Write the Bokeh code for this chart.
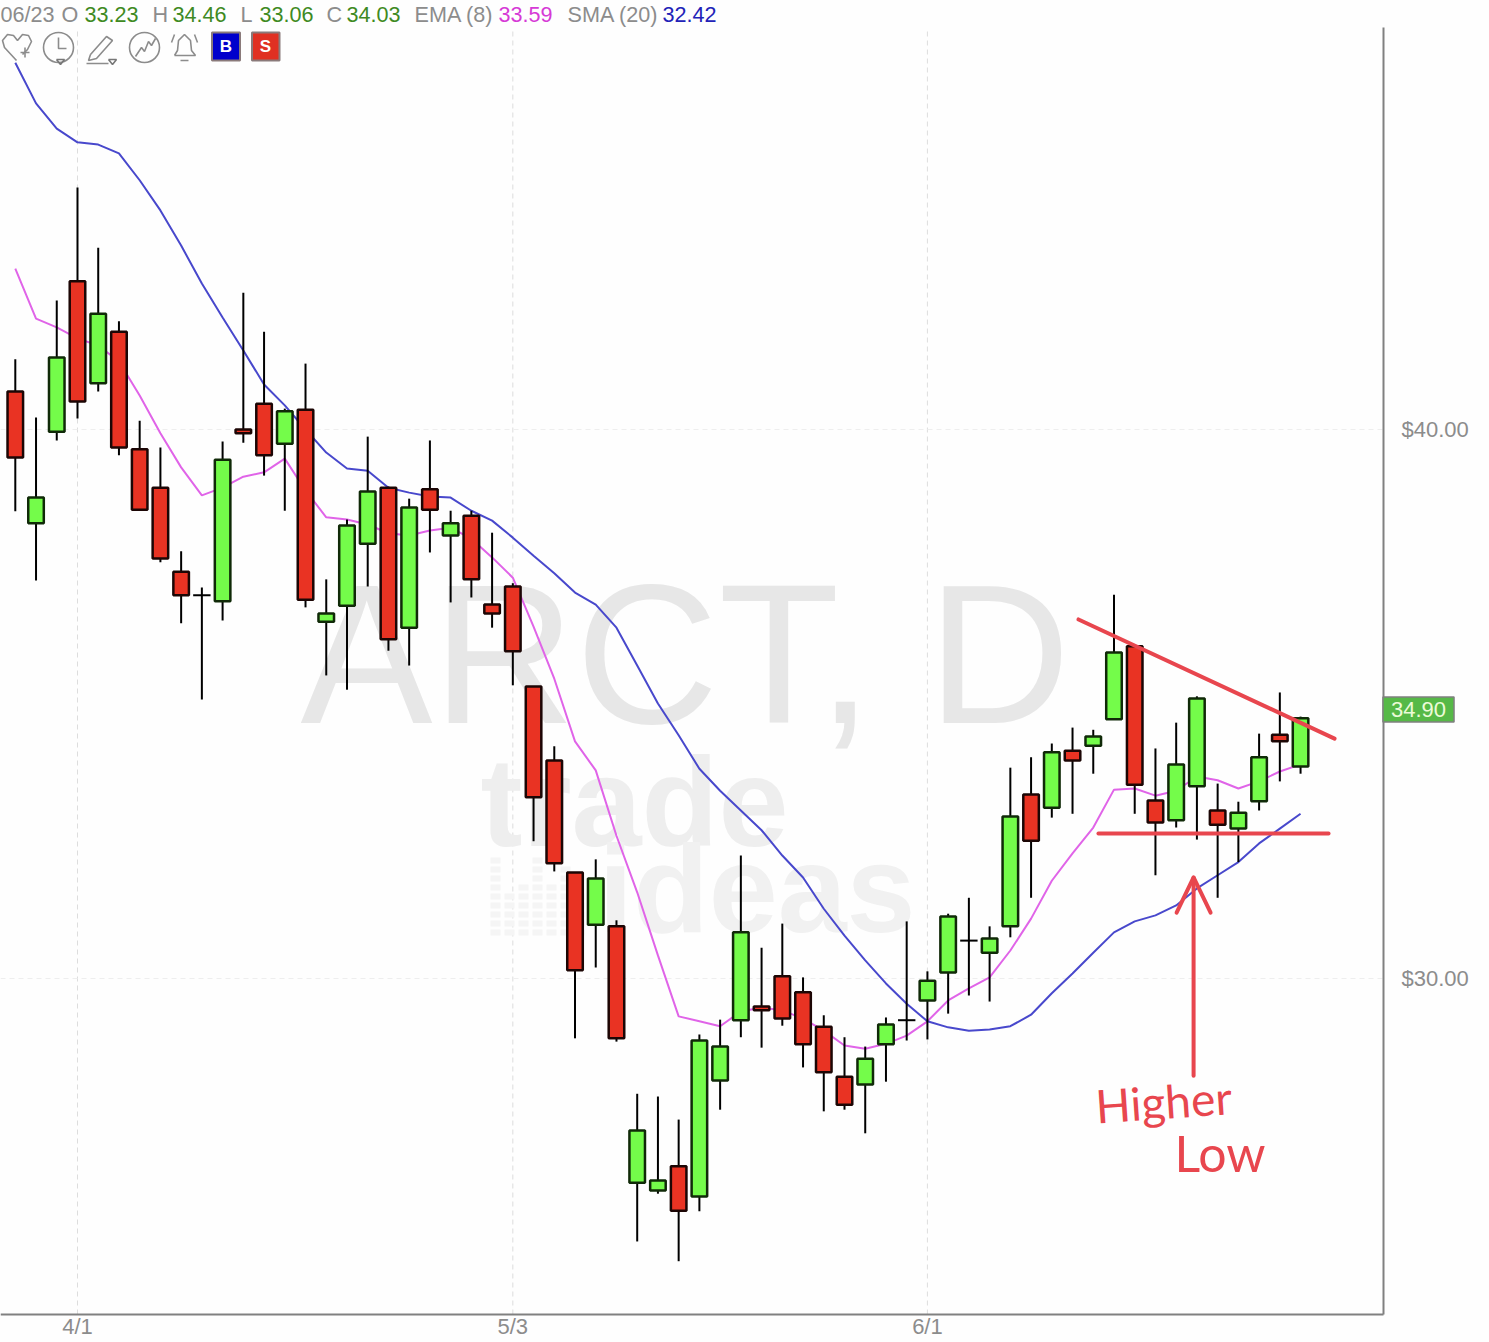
from bokeh.plotting import figure
from bokeh.embed import file_html
from bokeh.resources import INLINE
from bokeh.models import Range1d, FixedTicker, Label
from bokeh.core.properties import value

opens  = [40.69,38.29,39.96,42.70,40.84,41.78,39.64,38.94,37.41,36.98,36.87,40.00,40.47,39.74,40.36,36.50,36.79,37.92,38.94,36.39,38.91,38.07,38.43,36.81,37.14,35.32,33.97,31.93,30.98,30.95,26.28,26.14,26.58,26.03,28.14,29.24,29.49,30.04,29.75,29.12,28.21,28.07,28.80,29.24,29.60,30.11,30.69,30.47,30.95,33.35,33.11,34.15,34.24,34.72,36.05,33.24,32.88,33.50,33.06,32.73,33.23,34.44,33.86]
highs  = [41.28,40.22,42.35,44.41,43.31,41.97,40.16,39.67,37.78,37.12,39.78,42.49,41.78,40.38,41.20,37.27,38.36,39.87,38.96,38.74,39.80,38.52,38.52,38.12,37.20,35.32,34.23,31.93,32.17,31.06,27.90,27.85,27.43,28.98,29.25,32.24,30.56,31.00,30.02,29.33,28.93,28.76,29.29,31.04,30.13,31.18,31.47,30.95,33.84,34.03,34.28,34.57,34.53,36.99,36.07,34.19,34.66,35.14,33.55,33.22,34.46,35.21,34.77]
lows   = [38.51,37.25,39.80,40.20,40.69,39.53,38.54,37.58,36.47,35.08,36.52,39.76,39.16,38.52,36.76,35.52,35.26,37.14,35.97,35.70,37.76,36.85,36.94,36.39,35.34,32.50,31.95,28.91,30.20,28.85,25.21,26.08,24.85,25.76,27.61,28.93,28.74,29.14,28.38,27.58,27.61,27.18,28.12,28.87,28.89,29.36,29.69,29.58,30.75,31.47,32.93,33.00,33.73,34.72,33.00,31.88,32.75,32.53,31.47,32.12,33.06,33.59,33.73]
closes = [39.49,38.76,41.31,40.51,42.11,39.67,38.54,37.65,36.98,36.98,39.45,39.93,39.53,40.33,36.90,36.65,38.25,38.87,36.18,38.58,38.54,38.29,37.27,36.65,35.96,33.30,32.10,30.15,31.82,28.91,27.23,26.32,25.77,28.87,28.76,30.84,29.42,29.27,28.80,28.29,27.70,28.54,29.16,29.24,29.96,31.13,30.69,30.73,32.95,32.51,34.12,33.97,34.41,35.94,33.53,32.84,33.90,35.10,32.80,33.02,34.03,34.32,34.74]
ema = [42.93,42.02,41.86,41.66,41.53,41.24,40.62,39.93,39.31,38.80,38.94,39.14,39.22,39.47,38.89,38.40,38.36,38.27,38.11,38.07,38.16,38.21,38.01,37.67,37.30,36.41,35.46,34.32,33.79,32.60,31.57,30.42,29.31,29.22,29.13,29.40,29.47,29.42,29.27,29.05,28.78,28.72,28.81,28.96,29.22,29.60,29.82,30.02,30.51,31.09,31.78,32.28,32.75,33.44,33.46,33.33,33.42,33.68,33.61,33.46,33.59,33.77,33.90]
sma = [46.68,45.94,45.48,45.23,45.19,45.03,44.54,43.99,43.35,42.66,42.04,41.44,40.82,40.44,40.00,39.58,39.29,39.25,38.94,38.85,38.78,38.76,38.52,38.34,38.03,37.70,37.38,37.03,36.81,36.39,35.70,35.01,34.43,33.82,33.42,33.06,32.70,32.24,31.84,31.27,30.78,30.33,29.91,29.54,29.22,29.11,29.05,29.07,29.13,29.34,29.73,30.09,30.47,30.84,31.04,31.15,31.33,31.64,31.88,32.12,32.46,32.73,33.00]

date_ticks = {3: "4/1", 24: "5/3", 44: "6/1"}
price_ticks = {30: "$30.00", 40: "$40.00"}
last_price = 34.90
resistance_x, resistance_y = [51.29, 63.64], [36.54, 34.37]
support_x, support_y = [52.25, 63.35], [32.64, 32.64]
arrow_x, arrow_y = [56.84, 56.84], [28.23, 31.84]
head_x, head_y = [56.02, 56.84, 57.66], [31.20, 31.84, 31.20]
header = [("06/23", 0, "gray"), ("O", 61, "gray"), ("33.23", 84, "green"), ("H", 152, "gray"), ("34.46", 172, "green"),
          ("L", 240, "gray"), ("33.06", 259, "green"), ("C", 326, "gray"), ("34.03", 346, "green"),
          ("EMA (8)", 414, "gray"), ("33.59", 498, "ema"), ("SMA (20)", 567, "gray"), ("32.42", 662, "sma")]

W, H = 1489, 1342
FONT = "Liberation Sans"
RED, GREEN = "#e93323", "#74fc4a"
INK = "#e8464e"
TXT = {"gray": "#8c8c8c", "green": "#3f8a22", "ema": "#d63ad6", "sma": "#2222b8"}
AX_X, AX_Y, TOP = 1383, 1314, 27   # plot-area edges

def X(px):
    return (px - 14.8) / 20.73

def Y(py):
    return 47.814 - 0.018215 * py

p = figure(width=W, height=H, output_backend="svg", toolbar_location=None,
           x_range=Range1d(X(0), X(W)), y_range=Range1d(Y(H), Y(0)),
           y_axis_location="right", min_border_left=0, min_border_top=0,
           min_border_right=0, min_border_bottom=0, margin=(0, 0, 0, 0))
p.outline_line_color = None
p.background_fill_color = "#fefefe"
p.xgrid.visible = False
p.ygrid.visible = False

for ax, ticks in ((p.xaxis[0], date_ticks), (p.yaxis[0], price_ticks)):
    ax.ticker = FixedTicker(ticks=list(ticks))
    ax.major_label_overrides = ticks
    ax.major_tick_line_color = None
    ax.minor_tick_line_color = None
    ax.axis_line_color = "#808080"
    ax.axis_line_width = 2
    ax.major_label_text_color = "#8c8c8c"
    ax.major_label_text_font = FONT
    ax.major_label_text_font_size = "22px"
p.xaxis[0].fixed_location = Y(AX_Y)
p.xaxis[0].bounds = (X(0), X(AX_X))
p.xaxis[0].major_label_standoff = -7
p.yaxis[0].fixed_location = X(AX_X)
p.yaxis[0].bounds = (Y(AX_Y), Y(TOP))
p.yaxis[0].major_label_standoff = 12

# grid
p.segment(list(date_ticks), [Y(AX_Y)] * 3, list(date_ticks), [Y(TOP)] * 3,
          line_color="#dddddd", line_dash="5 4", line_width=1)
p.segment([X(0)] * 2, list(price_ticks), [X(AX_X)] * 2, list(price_ticks),
          line_color="#eeeeee", line_dash="5 4", line_width=1)

# watermark
def wm(txt, px, py, size, style, col):
    p.text([X(px)], [Y(py)], text=[txt], text_font=value(FONT), text_font_size=value(size),
           text_font_style=style, text_color=col, text_align="left", text_baseline="alphabetic")
wm("ARCT, D", 300, 654, "198px", "normal", "#e7e7e7")
wm("trade", 480, 802, "126px", "bold", "#eeeeee")
wm("ideas", 598, 888, "124px", "bold", "#f1f1f1")

# watermark logo: faint dot columns
logo_l, logo_r, logo_b, logo_t = [], [], [], []
for col_i, n_rows in enumerate([9, 5, 6, 9, 6, 8, 5]):
    for row_i in range(n_rows):
        logo_l.append(X(490 + col_i * 14)); logo_r.append(X(500 + col_i * 14))
        logo_b.append(Y(935 - row_i * 9)); logo_t.append(Y(929 - row_i * 9))
p.quad(left=logo_l, right=logo_r, bottom=logo_b, top=logo_t, fill_color="#f5f5f5", line_color=None)

# moving averages
xs = list(range(len(opens)))
p.line(xs, ema, line_color="#e064e8", line_width=2)
p.line(xs, sma, line_color="#4848cc", line_width=2)

# candles
up = [i for i in xs if closes[i] > opens[i]]
dn = [i for i in xs if closes[i] < opens[i]]
dj = [i for i in xs if closes[i] == opens[i]]
p.segment(xs, lows, xs, highs, line_color="#000000", line_width=2)
p.vbar([i for i in up], width=0.75, bottom=[opens[i] for i in up], top=[closes[i] for i in up],
       fill_color=GREEN, line_color="#102a08", line_width=2.5)
p.vbar([i for i in dn], width=0.75, bottom=[closes[i] for i in dn], top=[opens[i] for i in dn],
       fill_color=RED, line_color="#1c0605", line_width=2.5)
p.segment([i - 0.42 for i in dj], [opens[i] for i in dj], [i + 0.42 for i in dj], [closes[i] for i in dj],
          line_color="#000000", line_width=2)

# hand drawn annotation
for ax_, ay_ in ((resistance_x, resistance_y), (support_x, support_y), (arrow_x, arrow_y), (head_x, head_y)):
    p.line(ax_, ay_, line_color=INK, line_width=4, line_cap="round", line_join="round")
p.add_layout(Label(x=X(1097), y=Y(1133), text="Higher", text_font="Lato", text_font_size="46px",
                   text_color=INK, angle=4, angle_units="deg"))
p.add_layout(Label(x=X(1174), y=Y(1182), text="Low", text_font="Lato", text_font_size="50px",
                   text_color=INK))

# tool icons
ICON = "#8c8c8c"
def ic(pts, w=1.6, col=ICON):
    p.line([X(a) for a, _ in pts], [Y(b) for _, b in pts], line_color=col, line_width=w)
ic([(16, 60), (4, 47), (2, 40), (7, 34), (13, 35), (17, 40), (22, 34), (28, 35), (31, 41), (27, 49), (22, 54)])
ic([(20, 52), (29, 52)]); ic([(24.5, 47), (24.5, 57)])
p.scatter([X(58), X(144)], [Y(47), Y(47)], marker="circle", size=30, fill_color=None, line_color=ICON, line_width=1.6)
ic([(58, 37), (58, 48), (66, 48)])
ic([(56, 59), (64, 59), (60, 64), (56, 59)], col="#777777")
ic([(90, 54), (106, 36), (112, 40), (96, 58), (88, 60), (90, 54)])
ic([(86, 63), (108, 63)]); ic([(108, 59), (116, 59), (112, 64), (108, 59)], col="#777777")
ic([(135, 56), (141, 47), (144, 51), (148, 41), (151, 45), (155, 38)])
ic([(174, 55), (177, 50), (178, 40), (184, 34), (190, 40), (191, 50), (195, 55), (174, 55)])
ic([(174, 34), (171, 42)]); ic([(194, 34), (197, 42)]); ic([(180, 60), (188, 60)])
p.quad(left=[X(211.5), X(251.5)], right=[X(239.5), X(279)], bottom=[Y(60), Y(60)], top=[Y(32), Y(32)],
       fill_color=["#0000cc", "#e03022"], line_color="#8a7a7a", line_width=2)
p.text([X(225.5), X(265)], [Y(46), Y(46)], text=["B", "S"], text_color="#ffffff", text_font=value(FONT),
       text_font_size=value("17px"), text_font_style="bold", text_align="center", text_baseline="middle")

# header and price flag
for txt, px, kind in header:
    p.add_layout(Label(x=X(px), y=Y(14), text=txt, text_font=FONT, text_font_size="21.6px",
                       text_color=TXT[kind], text_baseline="middle", text_align="left"))
p.add_layout(Label(x=X(1418), y=last_price, text=f"{last_price:.2f}", text_font=FONT, text_font_size="22px",
                   text_color="#ecfbd8", text_align="center", text_baseline="middle",
                   background_fill_color="#56b947", border_line_color="#808080", border_line_width=1.5, padding=(8, 5)))

open("out.html", "w").write(file_html(p, INLINE))
